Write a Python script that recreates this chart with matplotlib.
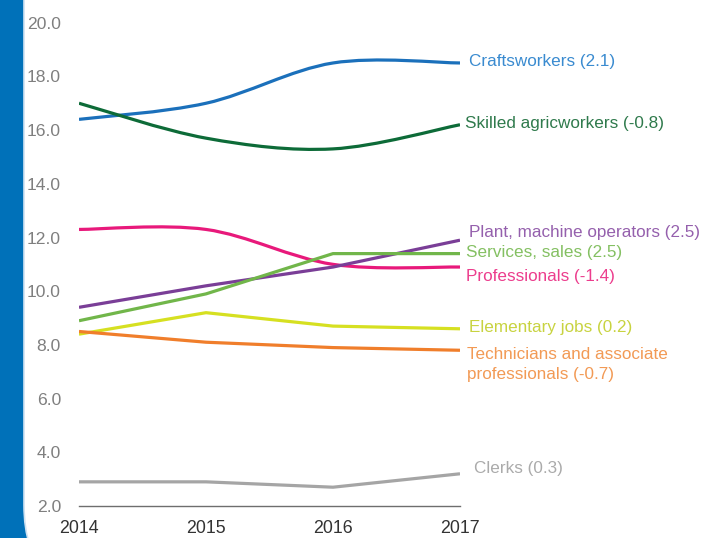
import numpy as np
import matplotlib
matplotlib.use("Agg")
import matplotlib.pyplot as plt
import matplotlib.transforms as mtransforms
from matplotlib.path import Path
from matplotlib.patches import PathPatch, FancyBboxPatch

plt.rcParams['font.family'] = ['Liberation Sans', 'DejaVu Sans']

years = [2014, 2015, 2016, 2017]

craftsworkers = [16.4, 17.0, 18.5, 18.5]
skilled_agric = [17.0, 15.7, 15.3, 16.2]
professionals = [12.3, 12.3, 11.0, 10.9]
plant_operators = [9.4, 10.2, 10.9, 11.9]
services_sales = [8.9, 9.9, 11.4, 11.4]
elementary = [8.4, 9.2, 8.7, 8.6]
technicians = [8.5, 8.1, 7.9, 7.8]
clerks = [2.9, 2.9, 2.7, 3.2]

# (values, line colour, text colour, label, smooth, label offset in px)
series = [
    (craftsworkers, '#1b70bb', '#3a8bd0', 'Craftsworkers (2.1)', True, (9, 1)),
    (skilled_agric, '#0d6b38', '#2f7a4c', 'Skilled agricworkers (-0.8)', True, (5, 1)),
    (professionals, '#e8197b', '#ec3d8d', 'Professionals (-1.4)', True, (6, -9)),
    (plant_operators, '#7a3e97', '#9560ad', 'Plant, machine operators (2.5)', False, (9, 8)),
    (services_sales, '#71b64a', '#84c062', 'Services, sales (2.5)', False, (6, 1)),
    (elementary, '#d6e021', '#c8d340', 'Elementary jobs (0.2)', False, (9, 1)),
    (technicians, '#f07e2b', '#f29a55', 'Technicians and associate\nprofessionals (-0.7)', False, (7, -14)),
    (clerks, '#a5a5a5', '#ababab', 'Clerks (0.3)', False, (14, 5)),
]


def smooth_path(xs, ys):
    # cardinal spline drawn as cubic bezier segments through the data points
    pts = np.column_stack([xs, ys]).astype(float)
    n = len(pts)
    verts = [pts[0]]
    codes = [Path.MOVETO]
    for i in range(n - 1):
        p_prev = pts[max(i - 1, 0)]
        p0, p1 = pts[i], pts[i + 1]
        p_next = pts[min(i + 2, n - 1)]
        c1 = p0 + (p1 - p_prev) / 6.0
        c2 = p1 - (p_next - p0) / 6.0
        verts += [c1, c2, p1]
        codes += [Path.CURVE4] * 3
    return Path(verts, codes)


fig = plt.figure(figsize=(7.03, 5.38), dpi=100)
fig.patch.set_facecolor('#0071b9')

# white panel with rounded bottom-left corner over the blue backdrop
px = mtransforms.Affine2D().scale(1 / 703, 1 / 538) + fig.transFigure
panel = FancyBboxPatch((24, -61), 800, 700,
                       boxstyle='round,pad=0,rounding_size=94',
                       facecolor='white', edgecolor='#cfe2f2', linewidth=1.2,
                       transform=px, zorder=-5)
fig.patches.append(panel)

ax = fig.add_axes([79 / 703, 32 / 538, 381 / 703, 483.3 / 538])
ax.set_facecolor('none')
ax.set_zorder(2)

for vals, col, tcol, label, smooth, (dx, dy) in series:
    if smooth:
        ax.add_patch(PathPatch(smooth_path(years, vals), facecolor='none',
                               edgecolor=col, linewidth=2.3, capstyle='butt'))
    else:
        ax.plot(years, vals, color=col, linewidth=2.3, solid_capstyle='butt')
    ax.annotate(label, xy=(years[-1], vals[-1]), xytext=(dx, dy),
                textcoords='offset pixels', ha='left', va='center',
                fontsize=12.3, color=tcol, linespacing=1.45,
                annotation_clip=False)

ax.set_xlim(2014, 2017)
ax.set_ylim(2, 20)
ax.set_xticks(years)
ax.set_xticklabels([str(y) for y in years], fontsize=12.8, color='#333333')
ax.set_yticks(np.arange(2, 20.1, 2))
ax.set_yticklabels([f'{v:.1f}' for v in np.arange(2, 20.1, 2)],
                   fontsize=12.6, color='#7f7f7f')
ax.tick_params(axis='both', length=0)
ax.tick_params(axis='y', pad=13)
ax.tick_params(axis='x', pad=10)
for side in ['top', 'right', 'left']:
    ax.spines[side].set_visible(False)
ax.spines['bottom'].set_color('#6e6e6e')
ax.spines['bottom'].set_linewidth(1.0)

fig.savefig('out.png', dpi=100, facecolor=fig.get_facecolor())
